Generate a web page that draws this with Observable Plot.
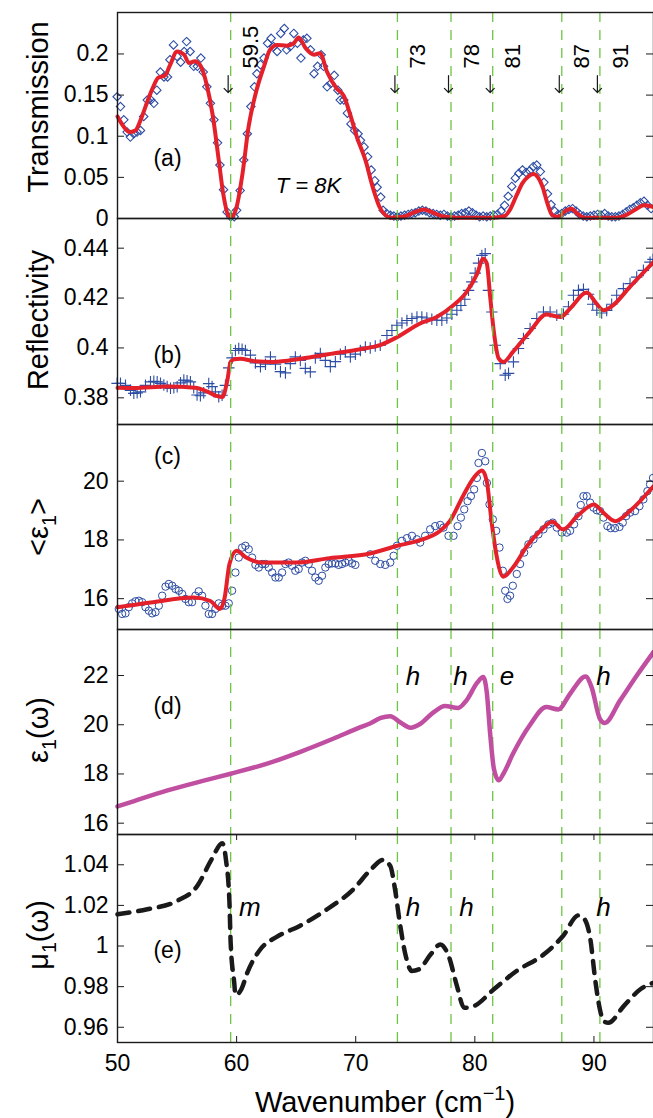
<!DOCTYPE html>
<html>
<head>
<meta charset="utf-8">
<script src="https://cdn.jsdelivr.net/npm/d3@7"></script>
<script src="https://cdn.jsdelivr.net/npm/@observablehq/plot@0.6"></script>
<style>
  html, body { margin: 0; padding: 0; background: #fff; }
  #chart { width: 653px; }
  #chart svg { display: block; }
</style>
</head>
<body>
<div id="chart"></div>
<script>
// ---------------- DATA ----------------
const xTicks = [50, 60, 70, 80, 90];
const peakLines = [59.5, 73.5, 78, 81.5, 87.3, 90.5];
const peakLabels = ["59.5", "73", "78", "81", "87", "91"];

const transTicks = [0, 0.05, 0.1, 0.15, 0.2];
const transTickLabels = ["0", "0.05", "0.1", "0.15", "0.2"];
const reflTicks = [0.38, 0.4, 0.42, 0.44];
const reflTickLabels = ["0.38", "0.4", "0.42", "0.44"];
const epsAvgTicks = [16, 18, 20];
const epsAvgTickLabels = ["16", "18", "20"];
const eps1Ticks = [16, 18, 20, 22];
const eps1TickLabels = ["16", "18", "20", "22"];
const mu1Ticks = [0.96, 0.98, 1, 1.02, 1.04];
const mu1TickLabels = ["0.96", "0.98", "1", "1.02", "1.04"];

const dLetters = ["h", "h", "e", "h"];
const dLetterX = [74.8, 78.8, 82.7, 90.8];
const eLetters = ["m", "h", "h", "h"];
const eLetterX = [61.1, 74.8, 79.3, 90.8];

// (a) Transmission: measured (diamonds)
const transData = [
[49.97,0.148],[50.25,0.136],[50.53,0.120],[50.81,0.105],[51.08,0.099],[51.36,0.103],[51.64,0.105],[51.93,0.107],
[52.2,0.124],[52.5,0.144],[52.8,0.144],[53.05,0.140],[53.3,0.156],[53.6,0.178],[53.9,0.172],[54.2,0.172],
[54.4,0.193],[54.7,0.211],[55.0,0.197],[55.3,0.190],[55.6,0.203],[55.8,0.215],[56.1,0.203],[56.4,0.185],
[56.7,0.185],[57.0,0.195],[57.2,0.178],[57.5,0.160],[57.8,0.140],[58.1,0.120],[58.4,0.092],[58.6,0.065],
[58.9,0.035],[59.2,0.008],[59.5,0.002],[59.8,0.002],[60.0,0.010],[60.3,0.034],[60.6,0.071],[60.9,0.103],
[61.2,0.136],[61.5,0.160],[61.7,0.176],[62.0,0.187],[62.3,0.195],[62.6,0.213],[62.9,0.219],[63.1,0.209],
[63.4,0.203],[63.7,0.225],[64.0,0.231],[64.2,0.205],[64.5,0.209],[64.8,0.225],[65.1,0.213],[65.4,0.195],
[65.6,0.217],[65.9,0.219],[66.2,0.205],[66.5,0.176],[66.8,0.185],[67.1,0.199],[67.3,0.185],[67.6,0.160],
[67.9,0.164],[68.2,0.174],[68.5,0.156],[68.7,0.144],[69.0,0.144],[69.3,0.128],[69.6,0.115],[69.9,0.107],
[70.2,0.103],[70.4,0.095],[70.7,0.087],[71.0,0.075],[71.3,0.059],[71.6,0.046],[71.8,0.038],[72.1,0.026],
[72.3,0.010],[72.6,0.006],[72.9,0.004],[73.2,0.003],[73.5,0.002],[73.8,0.003],[74.1,0.004],[74.4,0.005],
[74.7,0.006],[75.0,0.007],[75.3,0.009],[75.6,0.010],[75.9,0.009],[76.2,0.007],[76.5,0.006],[76.8,0.005],
[77.1,0.004],[77.4,0.005],[77.7,0.003],[78.0,0.002],[78.3,0.003],[78.6,0.004],[78.9,0.006],[79.2,0.007],
[79.5,0.009],[79.8,0.007],[80.1,0.004],[80.4,0.002],[80.7,0.003],[81.0,0.002],[81.3,0.003],[81.6,0.004],
[81.9,0.005],[82.2,0.009],[82.5,0.016],[82.8,0.027],[83.1,0.039],[83.4,0.049],[83.7,0.055],[84.0,0.059],
[84.3,0.056],[84.6,0.058],[84.9,0.063],[85.2,0.065],[85.5,0.057],[85.8,0.044],[86.1,0.030],[86.4,0.017],
[86.7,0.009],[87.0,0.005],[87.3,0.006],[87.6,0.009],[87.9,0.011],[88.2,0.012],[88.5,0.009],[88.8,0.005],
[89.1,0.003],[89.4,0.002],[89.7,0.003],[90.0,0.004],[90.3,0.005],[90.6,0.004],[90.9,0.006],[91.2,0.003],
[91.5,0.002],[91.8,0.002],[92.1,0.003],[92.4,0.005],[92.7,0.008],[93.0,0.011],[93.3,0.013],[93.6,0.016],
[93.9,0.019],[94.2,0.021],[94.5,0.016],[94.8,0.012]
];
// (a) Transmission: fit (red)
const transFit = [
[50.0,0.124],[50.5,0.112],[51.0,0.105],[51.5,0.107],[52.0,0.122],[52.5,0.142],[53.0,0.160],[53.4,0.171],
[54.0,0.174],[54.4,0.186],[55.0,0.203],[55.6,0.199],[56.0,0.189],[56.5,0.191],[57.0,0.185],[57.5,0.162],
[58.0,0.125],[58.5,0.071],[58.9,0.028],[59.3,0.004],[59.6,0.002],[60.0,0.014],[60.5,0.055],[61.0,0.111],
[61.6,0.152],[62.3,0.185],[62.8,0.205],[63.4,0.211],[64.2,0.210],[64.8,0.213],[65.2,0.220],[65.8,0.207],
[66.5,0.199],[67.0,0.201],[67.6,0.178],[68.4,0.158],[69.0,0.149],[69.5,0.128],[70.1,0.099],[70.9,0.067],
[71.2,0.050],[71.6,0.030],[72.0,0.014],[72.5,0.004],[73.0,0.001],[74.0,0.002],[75.0,0.008],[75.7,0.011],
[76.5,0.007],[77.5,0.002],[78.5,0.001],[80.0,0.001],[81.5,0.001],[82.5,0.003],[83.0,0.012],[83.5,0.028],
[84.0,0.043],[84.5,0.051],[84.9,0.054],[85.3,0.050],[85.7,0.038],[86.1,0.018],[86.5,0.004],[87.0,0.002],
[87.6,0.009],[88.1,0.012],[88.6,0.006],[89.2,0.001],[90.5,0.001],[92.0,0.001],[92.8,0.005],[93.5,0.011],
[94.2,0.016],[95.0,0.014]
];

// (b) Reflectivity: measured (crosses)
const reflData = [
[49.97,0.3858],[50.25,0.3858],[50.67,0.3850],[51.09,0.3830],[51.37,0.3818],[51.65,0.3820],[51.93,0.3824],
[52.35,0.3850],[52.77,0.3864],[53.05,0.3866],[53.33,0.3864],[53.61,0.3858],[53.89,0.3851],[54.17,0.3845],
[54.45,0.3838],[54.73,0.3840],[55.01,0.3844],[55.29,0.3860],[55.57,0.3871],[55.84,0.3868],[56.12,0.3864],
[56.40,0.3840],[56.68,0.3811],[56.96,0.3808],[57.24,0.3820],[57.66,0.3857],[57.94,0.3845],[58.22,0.3824],
[58.50,0.3804],[58.78,0.3810],[59.06,0.3850],[59.34,0.3920],[59.62,0.3960],[59.90,0.3990],[60.18,0.3998],
[60.46,0.3995],[60.74,0.3990],[61.16,0.3971],[61.58,0.3940],[62.00,0.3925],[62.42,0.3935],[62.84,0.3964],
[63.26,0.3935],[63.68,0.3905],[64.10,0.3900],[64.51,0.3937],[64.93,0.3964],[65.35,0.3950],[65.77,0.3918],
[66.19,0.3904],[66.61,0.3960],[67.03,0.3978],[67.45,0.3950],[67.87,0.3925],[68.29,0.3945],[68.71,0.3975],
[69.13,0.3985],[69.55,0.3964],[69.97,0.3975],[70.39,0.3990],[70.81,0.4004],[71.22,0.4000],[71.64,0.4008],
[72.06,0.4011],[72.62,0.4050],[73.04,0.4070],[73.46,0.4091],[73.88,0.4100],[74.30,0.4110],[74.72,0.4118],
[75.14,0.4124],[75.55,0.4124],[75.97,0.4120],[76.39,0.4115],[76.81,0.4111],[77.23,0.4111],[77.65,0.4120],
[78.07,0.4135],[78.49,0.4151],[78.83,0.4170],[79.16,0.4195],[79.47,0.4231],[79.75,0.4265],[80.03,0.4300],
[80.31,0.4340],[80.59,0.4371],[80.87,0.4378],[81.15,0.4231],[81.43,0.4144],[81.71,0.4011],[82.13,0.3937],
[82.55,0.3891],[82.83,0.3898],[83.24,0.3944],[83.66,0.3998],[84.08,0.4038],[84.64,0.4078],[85.20,0.4118],
[85.76,0.4144],[86.32,0.4144],[86.88,0.4131],[87.44,0.4135],[87.86,0.4165],[88.28,0.4211],[88.70,0.4231],
[89.12,0.4235],[89.54,0.4215],[89.90,0.4175],[90.24,0.4151],[90.65,0.4140],[91.07,0.4150],[91.49,0.4175],
[91.91,0.4211],[92.47,0.4238],[93.03,0.4258],[93.59,0.4284],[94.15,0.4311],[94.71,0.4344],[94.96,0.4355]
];
// (b) Reflectivity: fit (red)
const reflFit = [
[50.0,0.3840],[51.4,0.3839],[54.2,0.3845],[56.5,0.3840],[57.5,0.3826],[58.3,0.3808],[58.8,0.3803],
[59.2,0.3864],[59.5,0.3944],[59.8,0.3955],[60.3,0.3957],[61.5,0.3947],[63.1,0.3944],[65.4,0.3957],
[68.1,0.3978],[70.4,0.3995],[72.1,0.4012],[73.5,0.4044],[75.4,0.4098],[76.8,0.4124],[78.2,0.4171],
[79.3,0.4224],[80.2,0.4298],[80.7,0.4358],[81.0,0.4340],[81.3,0.4199],[81.6,0.4064],[82.0,0.3958],
[82.4,0.3944],[83.2,0.3984],[84.6,0.4064],[86.0,0.4134],[87.2,0.4124],[88.0,0.4158],[89.4,0.4222],
[90.1,0.4185],[90.8,0.4151],[91.6,0.4171],[93.0,0.4244],[95.0,0.4344]
];

// (c) <eps1>: measured (circles)
const epsAvgData = [
[50.11,15.65],[50.39,15.48],[50.67,15.50],[50.95,15.71],[51.23,15.84],[51.51,15.91],[51.79,15.93],[52.07,15.88],
[52.35,15.71],[52.63,15.59],[52.91,15.50],[53.19,15.54],[53.47,15.76],[53.75,16.10],[54.03,16.41],[54.31,16.50],
[54.59,16.44],[54.87,16.33],[55.15,16.27],[55.43,16.16],[55.70,15.99],[55.98,15.88],[56.26,15.88],[56.54,16.10],
[56.82,16.25],[57.10,16.10],[57.38,15.76],[57.66,15.48],[57.94,15.48],[58.22,15.65],[58.50,15.84],[58.78,15.76],
[59.06,15.76],[59.34,15.84],[59.62,16.27],[59.90,16.89],[60.18,17.40],[60.46,17.74],[60.74,17.80],[61.02,17.68],
[61.30,17.40],[61.58,17.15],[61.86,17.06],[62.14,17.18],[62.42,17.18],[62.70,17.06],[62.98,16.89],[63.26,16.72],
[63.54,16.72],[63.82,16.89],[64.09,17.18],[64.37,17.23],[64.65,17.12],[64.93,16.95],[65.21,17.01],[65.49,17.23],
[65.77,17.29],[66.05,17.18],[66.33,16.95],[66.61,16.72],[66.89,16.61],[67.17,16.78],[67.45,17.06],[67.73,17.18],
[68.01,17.20],[68.29,17.20],[68.57,17.15],[68.85,17.18],[69.13,17.23],[69.41,17.29],[69.69,17.20],[69.97,17.15],
[71.22,17.51],[71.64,17.29],[72.06,17.18],[72.48,17.15],[72.90,17.23],[73.18,17.46],[73.46,17.80],[73.88,17.97],
[74.30,18.06],[74.72,18.14],[75.14,18.02],[75.41,17.91],[75.83,18.14],[76.25,18.36],[76.67,18.47],[77.09,18.51],
[77.37,18.42],[77.79,18.14],[78.21,18.14],[78.55,18.47],[78.83,18.76],[79.11,19.04],[79.39,19.32],[79.67,19.49],
[79.94,19.72],[80.17,20.11],[80.31,20.62],[80.59,20.96],[80.87,20.68],[81.01,19.94],[81.23,19.21],[81.51,18.70],
[81.79,18.31],[82.07,17.74],[82.35,16.95],[82.55,16.27],[82.74,15.99],[82.96,16.10],[83.19,16.44],[83.52,16.84],
[83.80,17.18],[84.14,17.57],[84.50,17.85],[84.92,18.02],[85.34,18.19],[85.76,18.36],[86.18,18.53],[86.54,18.59],
[86.88,18.42],[87.30,18.25],[87.72,18.25],[88.00,18.31],[88.33,18.53],[88.70,18.81],[88.89,19.19],[89.12,19.49],
[89.40,19.49],[89.68,19.27],[89.96,19.10],[90.24,19.01],[90.52,18.98],[90.80,18.76],[91.13,18.47],[91.41,18.40],
[91.77,18.40],[92.14,18.44],[92.42,18.59],[92.70,18.81],[93.03,18.93],[93.45,18.98],[93.82,19.15],[94.15,19.38],
[94.49,19.66],[94.71,19.89],[94.96,20.11]
];
// (c) <eps1>: fit (red)
const epsAvgFit = [
[50.0,15.71],[52.8,15.87],[56.4,16.04],[57.8,15.92],[58.6,15.65],[59.0,16.04],[59.4,17.18],[60.0,17.63],
[60.8,17.40],[62.2,17.23],[65.0,17.23],[67.8,17.38],[71.2,17.54],[73.5,17.80],[75.4,17.99],[77.1,18.31],
[77.9,18.64],[79.0,19.49],[79.9,20.11],[80.6,20.36],[81.0,20.00],[81.4,18.64],[81.8,17.52],[82.4,16.75],
[83.2,17.06],[84.4,17.80],[85.5,18.31],[86.5,18.62],[87.4,18.36],[88.6,18.81],[90.0,19.21],[90.8,18.92],
[91.8,18.64],[93.0,18.98],[95.0,19.83]
];

// (d) eps1(omega) model (magenta)
const eps1Model = [
[50.0,16.68],[51.4,16.90],[54.2,17.33],[57.0,17.70],[59.5,18.01],[62.5,18.41],[65.3,18.89],[68.1,19.43],
[70.4,19.90],[71.2,20.05],[72.1,20.28],[72.9,20.35],[73.7,20.11],[74.6,19.88],[75.4,20.03],[76.5,20.49],
[77.5,20.76],[78.6,20.68],[79.3,20.99],[80.2,21.71],[80.7,21.94],[81.0,21.33],[81.3,19.56],[81.6,18.21],
[82.0,17.74],[82.4,18.01],[83.2,18.82],[84.6,19.97],[86.0,20.72],[87.0,20.62],[88.0,21.26],[89.3,21.96],
[89.8,21.53],[90.5,20.24],[90.9,20.07],[92.2,20.99],[93.6,22.00],[95.0,22.95]
];

// (e) mu1(omega) model (black dashed)
const mu1Model = [
[50.0,1.0156],[52.5,1.0181],[55.0,1.0222],[56.7,1.0296],[57.9,1.0427],[58.8,1.0506],[59.1,1.0427],
[59.4,1.0213],[59.5,1.0016],[59.8,0.9819],[59.9,0.9759],[60.4,0.9787],[60.9,0.9869],[62.0,0.9984],
[63.4,1.0046],[65.3,1.0099],[67.6,1.0181],[69.8,1.0279],[71.2,1.0372],[72.3,1.0424],[72.9,1.0394],
[73.3,1.0279],[73.7,1.0115],[74.2,0.9951],[74.7,0.9877],[75.3,0.9885],[76.3,0.9959],[77.1,1.0008],
[77.8,0.9951],[78.5,0.9803],[79.1,0.9696],[79.9,0.9704],[81.6,0.9787],[83.5,0.9877],[85.8,0.9959],
[87.4,1.0049],[88.7,1.0151],[89.1,1.0140],[89.7,1.0033],[90.1,0.9836],[90.5,0.9688],[90.8,0.9631],
[91.2,0.9622],[92.5,0.9704],[93.9,0.9787],[95.0,0.9819]
];

// ---------------- STYLE ----------------
const FONT = "'Liberation Sans', Arial, Helvetica, sans-serif";
const BLUE = "#2d4ca3", RED = "#e4212b", MAG = "#c04fa2", GREEN = "#6ec544", INK = "#1a1a1a";
const W = 653, ML = 117, MR = 0, PW = W - ML - MR;
const X = d => d[0], Y = d => d[1];

function greenLines() {
  return Plot.ruleX(peakLines, {x: d => d, stroke: GREEN, strokeWidth: 1.3, strokeDasharray: "10,8"});
}

function panel({height, marginTop = 0, marginBottom = 0, domain, ticks, tickLabels, marks, bottomAxis = false}) {
  const H = height - marginTop - marginBottom;
  const all = [
    ...marks,
    Plot.tickY(ticks, {y: d => d, insetRight: PW - 7, stroke: INK, strokeWidth: 1}),
    Plot.tickY(ticks, {y: d => d, insetLeft: PW - 7, stroke: INK, strokeWidth: 1}),
    Plot.axisY(ticks, {tickSize: 0, tickPadding: 9, fontSize: 23, label: null,
      tickFormat: d => tickLabels[ticks.indexOf(d)]}),
  ];
  if (bottomAxis) {
    all.push(
      Plot.tickX(xTicks, {x: d => d, insetTop: H - 6, stroke: INK, strokeWidth: 1}),
      Plot.tickX(xTicks, {x: d => d, insetBottom: H - 6, stroke: INK, strokeWidth: 1}),
      Plot.axisX(xTicks, {tickSize: 0, tickPadding: 12, fontSize: 23, label: null, tickFormat: d => String(d)})
    );
  }
  all.push(Plot.frame({stroke: INK, strokeWidth: 1.4}));
  return Plot.plot({
    width: W, height, marginLeft: ML, marginRight: MR, marginTop, marginBottom,
    x: {domain: [50, 95], axis: null},
    y: {domain, axis: null},
    style: {overflow: "visible", background: "none", fontFamily: FONT, color: "black"},
    marks: all
  });
}

function panelLabel(txt, dy) {
  return Plot.text([txt], {text: d => d, frameAnchor: "top-left", dx: 50, dy, textAnchor: "middle",
    lineAnchor: "bottom", fontSize: 23, fill: "black", fontFamily: FONT});
}

function addTitle(svg, parts, cy, size = 29) {
  const t = d3.select(svg).append("text")
    .attr("transform", `translate(48,${cy}) rotate(-90)`)
    .attr("text-anchor", "middle")
    .attr("font-family", FONT).attr("font-size", size).attr("fill", "black");
  parts.forEach(([s, kind]) => {
    const ts = t.append("tspan").text(s);
    if (kind === "sub") ts.attr("font-size", size * 0.68).attr("dy", 8);
    if (kind === "after") ts.attr("dy", -8);
  });
  return t;
}

const chart = document.getElementById("chart");

// (a)
const svgA = panel({
  height: 218, marginTop: 12, domain: [0, 0.2504], ticks: transTicks, tickLabels: transTickLabels,
  marks: [
    Plot.dot(transData, {x: X, y: Y, symbol: "diamond2", r: 3.8, stroke: BLUE, strokeWidth: 1.1, fill: "none"}),
    Plot.line(transFit, {x: X, y: Y, stroke: RED, strokeWidth: 4, curve: "monotone-x"}),
    greenLines(),
    Plot.vector(peakLines, {x: d => d, frameAnchor: "top", dy: 63, dx: -2.5, length: 17, rotate: 180,
      anchor: "start", shape: "arrow", r: 4.2, stroke: INK, strokeWidth: 1.2}),
    Plot.text(peakLabels, {x: (d, i) => peakLines[i], text: d => d, frameAnchor: "top", dy: 56, dx: 12,
      rotate: -90, textAnchor: "start", fontSize: 22, fill: "black", fontFamily: FONT}),
    panelLabel("(a)", 153),
    Plot.text(["T = 8K"], {text: d => d, frameAnchor: "top-left", dx: 191, dy: 180, textAnchor: "middle",
      lineAnchor: "bottom", fontSize: 22, fontStyle: "italic", fill: "black", fontFamily: FONT})
  ]
});
addTitle(svgA, [["Transmission"]], 107);
chart.appendChild(svgA);

// (b)
const svgB = panel({
  height: 206, domain: [0.3693, 0.4519], ticks: reflTicks, tickLabels: reflTickLabels,
  marks: [
    Plot.dot(reflData, {x: X, y: Y, symbol: "plus", r: 3.8, stroke: BLUE, strokeWidth: 1.1, fill: "none"}),
    Plot.line(reflFit, {x: X, y: Y, stroke: RED, strokeWidth: 4, curve: "monotone-x"}),
    greenLines(),
    panelLabel("(b)", 144)
  ]
});
addTitle(svgB, [["Reflectivity"]], 102);
chart.appendChild(svgB);

// (c)
const svgC = panel({
  height: 205, domain: [14.95, 21.93], ticks: epsAvgTicks, tickLabels: epsAvgTickLabels,
  marks: [
    Plot.dot(epsAvgData, {x: X, y: Y, symbol: "circle", r: 3.7, stroke: BLUE, strokeWidth: 1, fill: "none"}),
    Plot.line(epsAvgFit, {x: X, y: Y, stroke: RED, strokeWidth: 4, curve: "monotone-x"}),
    greenLines(),
    panelLabel("(c)", 39)
  ]
});
addTitle(svgC, [["<ε"], ["1", "sub"], [">", "after"]], 103);
chart.appendChild(svgC);

// (d)
const svgD = panel({
  height: 205, domain: [15.54, 23.87], ticks: eps1Ticks, tickLabels: eps1TickLabels,
  marks: [
    greenLines(),
    Plot.line(eps1Model, {x: X, y: Y, stroke: MAG, strokeWidth: 4.5, curve: "monotone-x"}),
    Plot.text(dLetters, {x: (d, i) => dLetterX[i], text: d => d, frameAnchor: "top", dy: 55,
      lineAnchor: "bottom", fontSize: 26, fontStyle: "italic", fill: "black", fontFamily: FONT}),
    panelLabel("(d)", 84)
  ]
});
addTitle(svgD, [["ε"], ["1", "sub"], ["(ω)", "after"]], 101);
chart.appendChild(svgD);

// (e)
const svgE = panel({
  height: 284, marginBottom: 76, domain: [0.9525, 1.0549], ticks: mu1Ticks, tickLabels: mu1TickLabels,
  bottomAxis: true,
  marks: [
    greenLines(),
    Plot.line(mu1Model, {x: X, y: Y, stroke: INK, strokeWidth: 4.5, strokeDasharray: "12,9", curve: "monotone-x"}),
    Plot.text(eLetters, {x: (d, i) => eLetterX[i], text: d => d, frameAnchor: "top", dy: 81,
      lineAnchor: "bottom", fontSize: 26, fontStyle: "italic", fill: "black", fontFamily: FONT}),
    panelLabel("(e)", 123)
  ]
});
addTitle(svgE, [["μ"], ["1", "sub"], ["(ω)", "after"]], 101);
{
  const t = d3.select(svgE).append("text")
    .attr("x", ML + PW / 2).attr("y", 278)
    .attr("text-anchor", "middle").attr("font-family", FONT).attr("font-size", 29).attr("fill", "black");
  t.append("tspan").text("Wavenumber (cm");
  t.append("tspan").text("−1").attr("font-size", 20).attr("dy", -12);
  t.append("tspan").text(")").attr("dy", 12);
}
chart.appendChild(svgE);
</script>
</body>
</html>
